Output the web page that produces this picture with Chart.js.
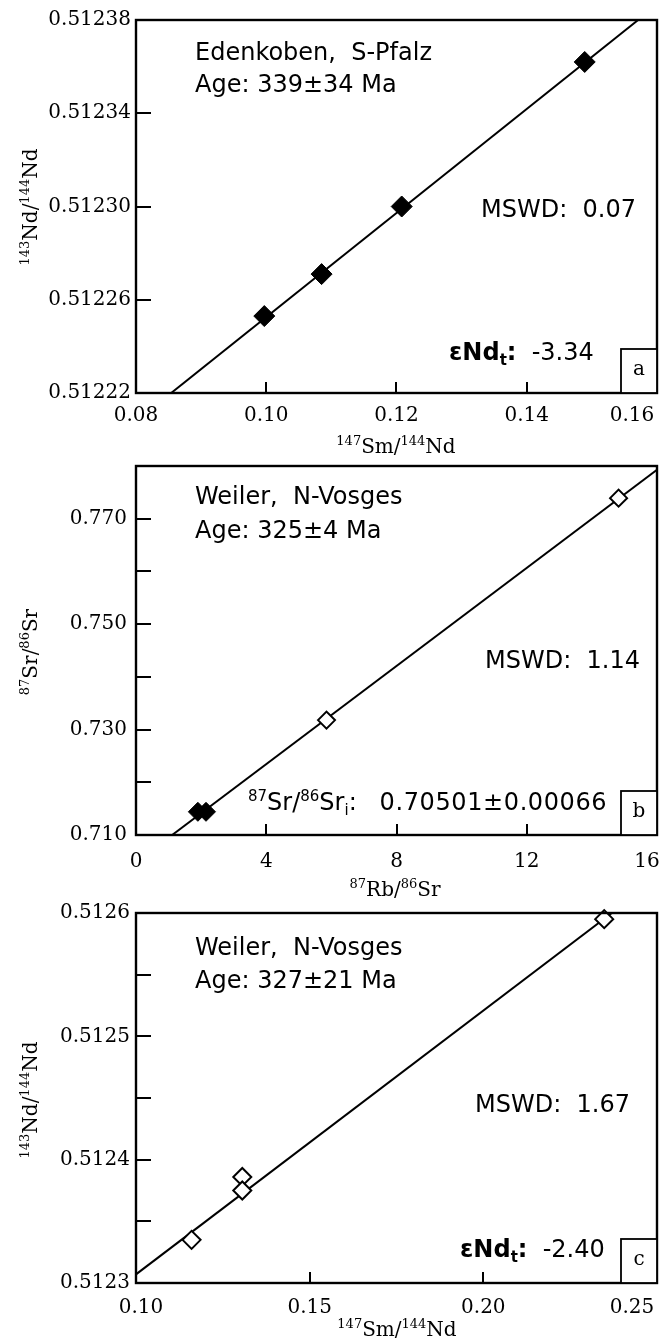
<!DOCTYPE html>
<html>
<head>
<meta charset="utf-8">
<script src="https://cdn.jsdelivr.net/npm/chart.js@4/dist/chart.umd.min.js"></script>
<style>
  body { margin: 0; background: #fff; width: 661px; height: 1341px; position: relative; overflow: hidden; }
  canvas { position: absolute; left: 0; }
</style>
</head>
<body>
<canvas id="chartA" width="661" height="460" style="top:0"></canvas>
<canvas id="chartB" width="661" height="440" style="top:460px"></canvas>
<canvas id="chartC" width="661" height="441" style="top:900px"></canvas>
<script>
// ---- panel a : Edenkoben, Sm-Nd ----
const smNdA = [0.0997, 0.1085, 0.1208, 0.1489];
const ndNdA = [0.512253, 0.512271, 0.512300, 0.512362];
const fitXA = [0.0854, 0.1571];
const fitYA = [0.51222, 0.51238];
const xTicksA = [0.08, 0.10, 0.12, 0.14, 0.16];
const xLabelsA = ['0.08', '0.10', '0.12', '0.14', '0.16\u2002\u2002\u2002\u2002\u2002'];
const yTicksA = [0.51222, 0.51226, 0.51230, 0.51234, 0.51238];
const yLabelsA = ['0.51222', '0.51226', '0.51230', '0.51234', '0.51238'];

// ---- panel b : Weiler, Rb-Sr ----
const rbSrFilledB = [1.90, 2.15];
const srSrFilledB = [0.7144, 0.7144];
const rbSrOpenB = [5.85, 14.82];
const srSrOpenB = [0.7318, 0.7739];
const fitXB = [1.11, 16];
const fitYB = [0.710, 0.7793];
const xTicksB = [0, 4, 8, 12, 16];
const xLabelsB = ['0', '4', '8', '12', '16\u2002\u2002'];
const yTicksB = [0.710, 0.720, 0.730, 0.740, 0.750, 0.760, 0.770, 0.780];
const yLabelsB = ['0.710', '', '0.730', '', '0.750', '', '0.770', ''];

// ---- panel c : Weiler, Sm-Nd ----
const smNdC = [0.1160, 0.1306, 0.1306, 0.2348];
const ndNdC = [0.512335, 0.512386, 0.512375, 0.512595];
const fitXC = [0.10, 0.2370];
const fitYC = [0.512307, 0.5126];
const xTicksC = [0.10, 0.15, 0.20, 0.25];
const xLabelsC = ['\u20020.10', '0.15', '0.20', '0.25\u2002\u2002\u2002\u2002\u2002'];
const yTicksC = [0.5123, 0.51235, 0.5124, 0.51245, 0.5125, 0.51255, 0.5126];
const yLabelsC = ['0.5123', '', '0.5124', '', '0.5125', '', '0.5126'];

const SANS = '"DejaVu Sans", sans-serif';
const SERIF = '"DejaVu Serif", serif';

function pts(xs, ys) {
  return xs.map((x, i) => ({ x, y: ys[i] }));
}

function fontOf(p) {
  const base = p.serif ? 20 : 24;
  const size = p.sup || p.sub ? (p.serif ? 13 : 15) : base;
  return (p.b ? 'bold ' : '') + size + 'px ' + (p.serif ? SERIF : SANS);
}

// draws a run of text pieces with superscripts / subscripts
function drawRich(ctx, parts, x, y, center) {
  let w = 0;
  parts.forEach((p) => {
    ctx.font = fontOf(p);
    ctx.letterSpacing = (p.ls || 0) + 'px';
    w += ctx.measureText(p.t).width;
  });
  let cx = center ? x - w / 2 : x;
  parts.forEach((p) => {
    ctx.font = fontOf(p);
    ctx.letterSpacing = (p.ls || 0) + 'px';
    let dy = 0;
    if (p.sup) dy = p.serif ? -8 : -9;
    if (p.sub) dy = 5;
    ctx.fillText(p.t, cx, y + dy);
    cx += ctx.measureText(p.t).width;
  });
  ctx.letterSpacing = '0px';
}

const isoPlugin = {
  id: 'iso',
  afterDraw(chart, args, opts) {
    const { ctx, chartArea: a, scales: { x, y } } = chart;
    ctx.save();
    ctx.strokeStyle = '#000';
    ctx.fillStyle = '#000';

    // frame
    ctx.lineWidth = 2.4;
    ctx.strokeRect(a.left, a.top, a.right - a.left, a.bottom - a.top);

    // inward tick marks
    ctx.lineWidth = 2;
    ctx.beginPath();
    y.ticks.forEach((t) => {
      const py = Math.round(y.getPixelForValue(t.value));
      if (py > a.top + 2 && py < a.bottom - 2) {
        ctx.moveTo(a.left, py);
        ctx.lineTo(a.left + 15, py);
      }
    });
    x.ticks.forEach((t) => {
      const px = Math.round(x.getPixelForValue(t.value));
      if (px > a.left + 2 && px < a.right - 2) {
        ctx.moveTo(px, a.bottom);
        ctx.lineTo(px, a.bottom - 11);
      }
    });
    ctx.stroke();

    // panel letter box
    ctx.lineWidth = 1.8;
    ctx.fillStyle = '#fff';
    ctx.fillRect(a.right - 36, a.bottom - 44, 36, 44);
    ctx.strokeRect(a.right - 36, a.bottom - 44, 36, 44);
    ctx.fillStyle = '#000';
    ctx.font = '20px ' + SERIF;
    ctx.textAlign = 'center';
    ctx.textBaseline = 'middle';
    ctx.fillText(opts.letter, a.right - 18, a.bottom - 23);

    ctx.textAlign = 'left';
    ctx.textBaseline = 'alphabetic';
    opts.notes.forEach((n) => drawRich(ctx, n.parts, n.x, n.y, false));

    // axis titles
    drawRich(ctx, opts.xTitle, opts.xTitleAt[0], opts.xTitleAt[1], true);
    ctx.translate(37, opts.yTitleAt);
    ctx.rotate(-Math.PI / 2);
    drawRich(ctx, opts.yTitle, 0, 0, true);
    ctx.restore();
  },
};

function isoTitle(a, b, c, d) {
  return [
    { t: a, sup: true, serif: true },
    { t: b, serif: true },
    { t: c, sup: true, serif: true },
    { t: d, serif: true },
  ];
}

function makePanel(id, cfg) {
  const ctx = document.getElementById(id);
  const h = ctx.height;
  new Chart(ctx, {       // eslint-disable-line
    type: 'scatter',
    data: {
      datasets: [
        {
          data: pts(cfg.openX, cfg.openY),
          pointStyle: 'rectRot',
          pointRadius: cfg.openR,
          pointBackgroundColor: '#fff',
          pointBorderColor: '#000',
          pointBorderWidth: 2,
          clip: false,
        },
        {
          data: pts(cfg.filledX, cfg.filledY),
          pointStyle: 'rectRot',
          pointRadius: cfg.filledR,
          pointBackgroundColor: '#000',
          pointBorderColor: '#000',
          pointBorderWidth: 1,
          clip: false,
        },
        {
          data: pts(cfg.fitX, cfg.fitY),
          showLine: true,
          borderColor: '#000',
          borderWidth: 2,
          pointRadius: 0,
          pointHoverRadius: 0,
        },
      ],
    },
    options: {
      responsive: false,
      animation: false,
      events: [],
      layout: { autoPadding: false, padding: { top: cfg.top, right: 4, left: 0, bottom: 0 } },
      plugins: {
        legend: { display: false },
        tooltip: { enabled: false },
        iso: cfg.iso,
      },
      scales: {
        x: {
          type: 'linear',
          min: cfg.xTicks[0],
          max: cfg.xTicks[cfg.xTicks.length - 1],
          border: { display: false },
          grid: { display: false, drawTicks: false },
          afterBuildTicks: (s) => { s.ticks = cfg.xTicks.map((v) => ({ value: v })); },
          afterFit: (s) => {
            s.height = h - cfg.bottom;
            s.paddingLeft = 0;
            s.paddingRight = 0;
          },
          ticks: {
            autoSkip: false,
            maxRotation: 0,
            padding: cfg.xPad,
            color: '#000',
            font: { family: SERIF, size: 20 },
            callback: (v, i) => cfg.xLabels[i],
          },
        },
        y: {
          type: 'linear',
          min: cfg.yTicks[0],
          max: cfg.yTicks[cfg.yTicks.length - 1],
          border: { display: false },
          grid: { display: false, drawTicks: false },
          afterBuildTicks: (s) => { s.ticks = cfg.yTicks.map((v) => ({ value: v })); },
          afterFit: (s) => {
            s.width = 136;
            s.paddingTop = 0;
            s.paddingBottom = 0;
          },
          ticks: {
            autoSkip: false,
            padding: cfg.yPad,
            color: '#000',
            font: { family: SERIF, size: 20 },
            callback: (v, i) => cfg.yLabels[i],
          },
        },
      },
    },
    plugins: [isoPlugin],
  });
}

makePanel('chartA', {
  top: 20, bottom: 393, xPad: 11, yPad: 5,
  openX: [], openY: [], openR: 9,
  filledX: smNdA, filledY: ndNdA, filledR: 10.5,
  fitX: fitXA, fitY: fitYA,
  xTicks: xTicksA, xLabels: xLabelsA, yTicks: yTicksA, yLabels: yLabelsA,
  iso: {
    letter: 'a',
    xTitle: isoTitle('147', 'Sm/', '144', 'Nd'), xTitleAt: [396, 453],
    yTitle: isoTitle('143', 'Nd/', '144', 'Nd'), yTitleAt: 207,
    notes: [
      { x: 195, y: 60, parts: [{ t: 'Edenkoben,  S-Pfalz' }] },
      { x: 195, y: 92, parts: [{ t: 'Age: 339±34 Ma' }] },
      { x: 481, y: 217, parts: [{ t: 'MSWD:  0.07' }] },
      { x: 449, y: 360, parts: [{ t: 'εNd', b: true }, { t: 't', b: true, sub: true }, { t: ':', b: true }, { t: '  -3.34' }] },
    ],
  },
});

makePanel('chartB', {
  top: 6, bottom: 375, xPad: 15, yPad: 9,
  openX: rbSrOpenB, openY: srSrOpenB, openR: 8.5,
  filledX: rbSrFilledB, filledY: srSrFilledB, filledR: 9.5,
  fitX: fitXB, fitY: fitYB,
  xTicks: xTicksB, xLabels: xLabelsB, yTicks: yTicksB, yLabels: yLabelsB,
  iso: {
    letter: 'b',
    xTitle: isoTitle('87', 'Rb/', '86', 'Sr'), xTitleAt: [395, 436],
    yTitle: isoTitle('87', 'Sr/', '86', 'Sr'), yTitleAt: 192,
    notes: [
      { x: 195, y: 44, parts: [{ t: 'Weiler,  N-Vosges' }] },
      { x: 195, y: 78, parts: [{ t: 'Age: 325±4 Ma' }] },
      { x: 485, y: 208, parts: [{ t: 'MSWD:  1.14' }] },
      {
        x: 248, y: 350,
        parts: [{ t: '87', sup: true }, { t: 'Sr/' }, { t: '86', sup: true }, { t: 'Sr' },
          { t: 'i', sub: true }, { t: ':   ' }, { t: '0.70501±0.00066', ls: 0.6 }],
      },
    ],
  },
});

makePanel('chartC', {
  top: 13, bottom: 383, xPad: 13, yPad: 6,
  openX: smNdC, openY: ndNdC, openR: 9,
  filledX: [], filledY: [], filledR: 9,
  fitX: fitXC, fitY: fitYC,
  xTicks: xTicksC, xLabels: xLabelsC, yTicks: yTicksC, yLabels: yLabelsC,
  iso: {
    letter: 'c',
    xTitle: isoTitle('147', 'Sm/', '144', 'Nd'), xTitleAt: [397, 436],
    yTitle: isoTitle('143', 'Nd/', '144', 'Nd'), yTitleAt: 200,
    notes: [
      { x: 195, y: 55, parts: [{ t: 'Weiler,  N-Vosges' }] },
      { x: 195, y: 88, parts: [{ t: 'Age: 327±21 Ma' }] },
      { x: 475, y: 212, parts: [{ t: 'MSWD:  1.67' }] },
      { x: 460, y: 357, parts: [{ t: 'εNd', b: true }, { t: 't', b: true, sub: true }, { t: ':', b: true }, { t: '  -2.40' }] },
    ],
  },
});
</script>
</body>
</html>
